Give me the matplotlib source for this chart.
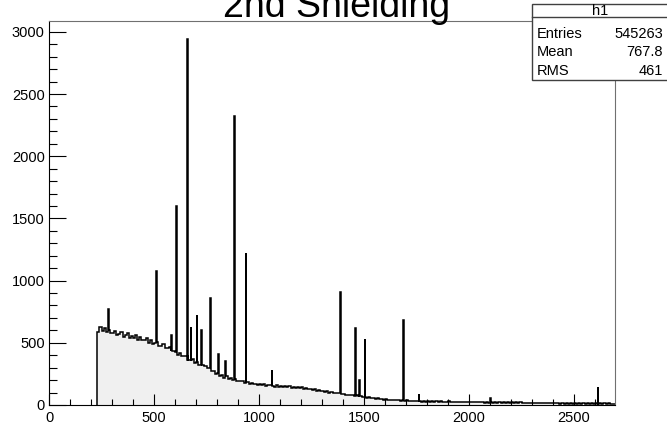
import numpy as np
import matplotlib
matplotlib.use("Agg")
import matplotlib.pyplot as plt
from matplotlib.patches import Rectangle
from matplotlib.ticker import MultipleLocator

plt.rcParams['font.family'] = ['Liberation Sans', 'DejaVu Sans']

# energy spectrum, 10 keV bins starting at 230 keV
bin_start = 230
bin_width = 10
continuum = [
    585, 625, 595, 615, 585, 605, 580,
    575, 595, 565, 570, 585, 550, 565, 575, 540, 555,
    540, 560, 525, 550, 520, 525, 535, 500, 520, 490,
    495, 505, 475, 475, 490, 455, 460, 470, 435, 435,
    430, 405, 420, 390, 390, 395, 365, 365, 370, 340,
    345, 325, 325, 320, 310, 295, 295, 275, 275, 250,
    255, 235, 240, 215, 230, 205, 220, 200, 205, 190,
    195, 190, 190, 175, 185, 170, 175, 168, 172, 160,
    168, 157, 165, 155, 158, 157, 155, 147, 158, 145,
    153, 143, 152, 142, 150, 139, 148, 137, 145, 138,
    142, 132, 140, 127, 130, 122, 125, 115, 118, 109,
    113, 103, 110, 99, 103, 95, 98, 94, 95, 85,
    88, 81, 83, 79, 80, 73, 77, 69, 72, 66,
    67, 60, 62, 56, 58, 52, 54, 48, 50, 44,
    47, 42, 44, 39, 42, 37, 40, 35, 38, 33,
    37, 32, 35, 31, 34, 29, 33, 28, 32, 27,
    32, 27, 30, 27, 30, 25, 30, 25, 28, 25,
    29, 24, 28, 23, 28, 23, 26, 23, 26, 22,
    26, 21, 26, 21, 24, 21, 24, 20, 23, 20,
    24, 19, 23, 18, 23, 18, 22, 17, 22, 17,
    22, 17, 21, 16, 21, 16, 20, 15, 20, 15,
    20, 15, 19, 14, 19, 14, 18, 13, 18, 13,
    18, 13, 17, 12, 17, 12, 16, 11, 16, 11,
    16, 11, 15, 10, 15, 10, 15, 10, 14, 10,
    15, 10, 14, 9, 14, 9, 13, 8, 12, 8,
]

# photopeaks: energy (keV) and counts in the peak bin
peak_energy = [283, 510, 583, 609, 661, 676, 705, 727, 768, 808, 840,
               883, 938, 1062, 1386, 1460, 1480, 1505, 1689, 1762, 2104, 2614]
peak_height = [770, 1075, 560, 1600, 2940, 630, 720, 600, 860, 410, 350,
               2320, 1220, 280, 910, 620, 200, 530, 685, 90, 60, 147]
peak_width = 4

entries = 545263
mean = 767.8
rms = 461

# split the continuum bins that hold a photopeak into narrow peak bins
lefts = [bin_start + bin_width * i for i in range(len(continuum))]
segments = [[x, x + bin_width, c] for x, c in zip(lefts, continuum)]
for e, h in zip(peak_energy, peak_height):
    i = int((e - bin_start) // bin_width)
    lo, hi, c = segments[i]
    segments[i] = [[lo, e - peak_width / 2, c],
                   [e - peak_width / 2, e + peak_width / 2, h],
                   [e + peak_width / 2, hi, c]]
flat = []
for s in segments:
    flat.extend(s if isinstance(s[0], list) else [s])
edges = np.array([s[0] for s in flat] + [flat[-1][1]])
counts = np.array([s[2] for s in flat], dtype=float)

W, H = 667, 424
fig = plt.figure(figsize=(W / 100, H / 100), dpi=100)
ax = fig.add_axes([49 / W, (H - 405) / H, 566 / W, 384 / H])

ax.stairs(counts, edges, fill=True, color='#f0f0f0', lw=0)
ax.stairs(counts, edges, color='black', lw=1.1)

ax.set_xlim(0, 2695)
ax.set_ylim(0, 3087)
ax.xaxis.set_major_locator(MultipleLocator(500))
ax.xaxis.set_minor_locator(MultipleLocator(100))
ax.yaxis.set_major_locator(MultipleLocator(500))
ax.yaxis.set_minor_locator(MultipleLocator(100))
ax.tick_params(axis='x', which='major', direction='in', length=8, width=0.8,
               labelsize=10.5, pad=4)
ax.tick_params(axis='x', which='minor', direction='in', length=4, width=0.8)
ax.tick_params(axis='y', which='major', direction='in', length=12, width=0.8,
               labelsize=10.5, pad=3)
ax.tick_params(axis='y', which='minor', direction='in', length=6, width=0.8)
for side in ('top', 'right'):
    ax.spines[side].set_color('#707070')
for side in ('left', 'bottom'):
    ax.spines[side].set_color('black')

fig.text(0.505, 1 - 17 / H, '2nd Shielding', ha='center', va='baseline',
         fontsize=27)

# statistics box
fig.add_artist(Rectangle((532 / W, 1 - 80 / H), 0.3, 76 / H,
                         transform=fig.transFigure, facecolor='white',
                         edgecolor='#404040', lw=1))
fig.add_artist(plt.Line2D([532 / W, 1], [1 - 17 / H, 1 - 17 / H],
                          transform=fig.transFigure, color='#404040', lw=1))
fig.text(600 / W, 1 - 11 / H, 'h1', ha='center', va='center', fontsize=10.5)
rows = [('Entries', f'{entries}'), ('Mean', f'{mean}'), ('RMS', f'{rms}')]
for k, (name, val) in enumerate(rows):
    y = 1 - (34 + 18.5 * k) / H
    fig.text(537 / W, y, name, ha='left', va='center', fontsize=10.5)
    fig.text(663 / W, y, val, ha='right', va='center', fontsize=10.5)

fig.savefig('out.png', dpi=100)
